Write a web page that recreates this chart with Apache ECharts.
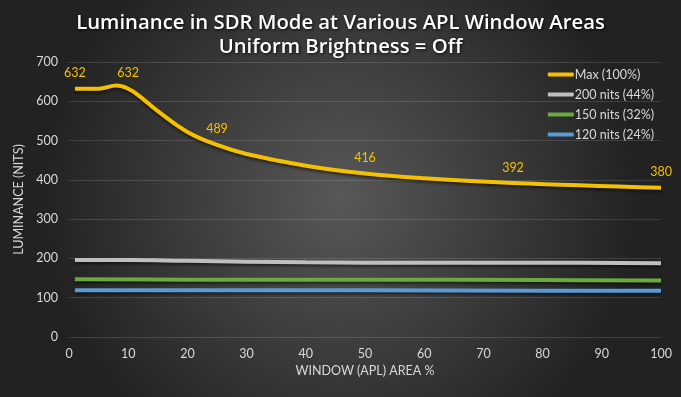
<!DOCTYPE html>
<html><head><meta charset="utf-8">
<script src="https://cdn.jsdelivr.net/npm/echarts@6/dist/echarts.min.js"></script>
<style>html,body{margin:0;padding:0;background:#2a2a2a}#c{width:681px;height:397px}</style>
</head><body><div id="c"></div>
<script>
const titleLines = ['Luminance in SDR Mode at Various APL Window Areas', 'Uniform Brightness = Off'];
const seriesNames = ['Max (100%)', '200 nits (44%)', '150 nits (32%)', '120 nits (24%)'];
const maxX = [1, 5, 8, 10, 12, 15, 20, 25, 30, 40, 50, 60, 75, 100];
const maxY = [632, 632, 640, 632, 612, 575, 522, 489, 466, 436, 416, 404, 392, 380];
const labeledX = [1, 10, 25, 50, 75, 100];
const nits200X = [1, 10, 20, 40, 60, 80, 100];
const nits200Y = [196, 196, 194, 190, 189, 189, 188];
const nits150X = [1, 20, 50, 80, 100];
const nits150Y = [147, 146, 146, 145, 144];
const nits120X = [1, 20, 50, 80, 100];
const nits120Y = [119, 119, 119, 118, 118];
const xTicks = [0, 10, 20, 30, 40, 50, 60, 70, 80, 90, 100];
const yTicks = [0, 100, 200, 300, 400, 500, 600, 700];
const colors = ['#f5c000', '#bfbfbf', '#6aaa3e', '#5b9bd5'];

const zip = (xs, ys) => xs.map((x, i) => [x, ys[i]]);
const chart = echarts.init(document.getElementById('c'), null, {renderer: 'canvas'});
const font = 'Lato, "Open Sans", sans-serif';
function lineSeries(name, data, color, extra) {
  return Object.assign({
    name, type: 'line', data, smooth: 0.4, symbol: 'none', showSymbol: false,
    lineStyle: {color, width: 4, shadowColor: 'rgba(0,0,0,0.55)', shadowBlur: 3, shadowOffsetY: 2},
    itemStyle: {color}, z: 3
  }, extra || {});
}
chart.setOption({
  backgroundColor: {
    type: 'radial', x: 0.5, y: 0.5, r: 0.75,
    colorStops: [{offset: 0, color: '#585858'}, {offset: 1, color: '#222222'}]
  },
  title: {
    text: titleLines.join('\n'), left: 'center', top: 6,
    textStyle: {color: '#ffffff', fontFamily: '"Open Sans", sans-serif', fontWeight: 600, fontSize: 20.3, lineHeight: 24,
      textShadowColor: 'rgba(0,0,0,0.8)', textShadowBlur: 3, textShadowOffsetX: 1, textShadowOffsetY: 1}
  },
  legend: {
    orient: 'vertical', right: 22, top: 63, itemGap: 7, itemWidth: 26, itemHeight: 4,
    data: seriesNames.map((n, i) => ({name: n, icon: 'roundRect', itemStyle: {color: colors[i]}})),
    textStyle: {color: '#d9d9d9', fontSize: 12.5, fontFamily: font, padding: [0, 0, 0, -4]}
  },
  grid: {left: 69, right: 20, top: 62, bottom: 60},
  xAxis: {
    type: 'value', min: 0, max: 100, interval: 10,
    name: 'WINDOW (APL) AREA %', nameLocation: 'middle', nameGap: 23,
    nameTextStyle: {color: '#d9d9d9', fontSize: 12.5, fontFamily: font},
    axisLine: {show: false}, axisTick: {show: false}, splitLine: {show: false},
    axisLabel: {color: '#d9d9d9', fontSize: 12.5, fontFamily: font, margin: 10}
  },
  yAxis: {
    type: 'value', min: 0, max: 700, interval: 100,
    name: 'LUMINANCE (NITS)', nameLocation: 'middle', nameGap: 43, nameRotate: 90,
    nameTextStyle: {color: '#d9d9d9', fontSize: 12.5, fontFamily: font},
    axisLine: {show: false}, axisTick: {show: false},
    splitLine: {lineStyle: {color: 'rgba(255,255,255,0.13)', width: 1}},
    axisLabel: {color: '#d9d9d9', fontSize: 12.5, fontFamily: font, margin: 11}
  },
  series: [
    lineSeries(seriesNames[0], zip(maxX, maxY).map(p => ({
      value: p,
      label: p[0] === 100 ? {offset: [-10, 0]} : {}
    })), colors[0], {
      symbol: 'circle', symbolSize: 0, showSymbol: true,
      label: {show: true, position: 'top', distance: 9, color: '#f5c000', fontSize: 12.5, fontFamily: font,
        formatter: p => labeledX.includes(p.value[0]) ? String(p.value[1]) : ''},
      labelLayout: {hideOverlap: false},
      z: 5
    }),
    lineSeries(seriesNames[1], zip(nits200X, nits200Y), colors[1]),
    lineSeries(seriesNames[2], zip(nits150X, nits150Y), colors[2]),
    lineSeries(seriesNames[3], zip(nits120X, nits120Y), colors[3])
  ]
});
</script></body></html>
